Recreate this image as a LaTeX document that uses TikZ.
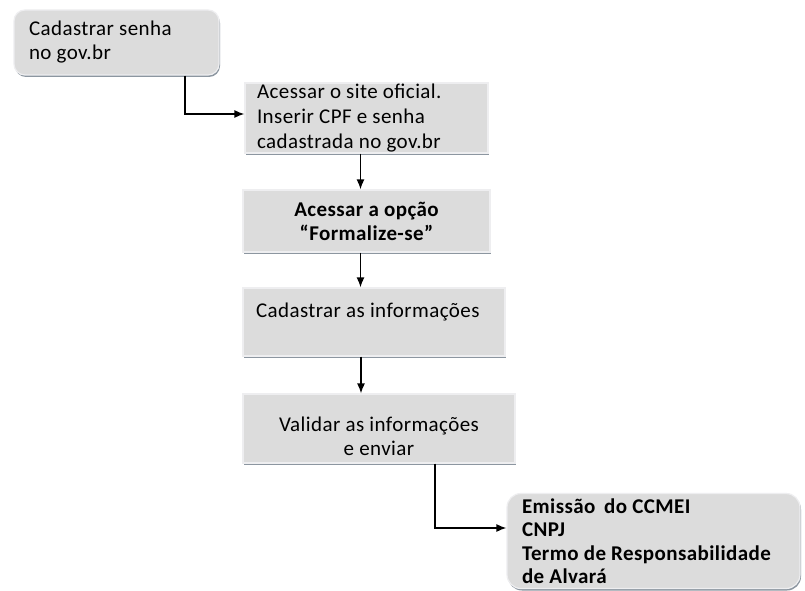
\documentclass[tikz,border=0pt]{standalone}
\usepackage{fontspec}
\setmainfont[LetterSpace=2]{Carlito}
\usetikzlibrary{arrows.meta,shapes,shadows}

\definecolor{boxgray}{RGB}{220,220,220}
\definecolor{edgegray}{RGB}{238,238,240}
\definecolor{shadegray}{RGB}{140,150,160}

\begin{document}
\begin{tikzpicture}[x=1pt,y=-1pt,
    block/.style={
      shape=rectangle,
      fill=boxgray,
      draw=edgegray,
      line width=1.2pt,
      general shadow={fill=shadegray, shadow xshift=1pt, shadow yshift=-2pt},
      font=\fontsize{21}{24}\selectfont,
      inner ysep=0pt
    },
    roundblock/.style={
      block,
      rounded corners=11pt
    },
    arr/.style={-{Latex[length=10pt,width=8pt]},line width=1.4pt,black}
    ]
    \clip (0,0) rectangle (805,591);
    \fill[white] (0,0) rectangle (805,591);
    %\draw (0,0) node [block] {teste};
    \node[roundblock,minimum width=205pt,minimum height=65pt,text width=175pt,inner xsep=15pt,align=flush left] (A) at (116.5,42.5) {Cadastrar senha\\no gov.br};
    \node[block,minimum width=243pt,minimum height=70pt,text width=219pt,inner xsep=12pt,align=flush left,font=\fontsize{21}{25}\selectfont] (B) at (366.5,118) {Acessar o site oficial.\\Inserir CPF e senha\\cadastrada no gov.br};
    \node[block,minimum width=247pt,minimum height=62pt,align=center,font=\fontsize{21}{24}\selectfont\bfseries] (C) at (366.5,221) {Acessar a opção\\“Formalize-se”};
    \node[block,minimum width=262pt,minimum height=68pt,text width=236pt,inner xsep=13pt,align=flush left] (D) at (374,322) {Cadastrar as informações\\\mbox{}};
    \node[block,minimum width=272pt,minimum height=69pt,align=center] (E) at (379,428.5) {\mbox{}\\[6pt]Validar as informações\\e enviar};
    \node[roundblock,rounded corners=14pt,minimum width=293pt,minimum height=95pt,text width=263pt,inner xsep=15pt,align=flush left,font=\fontsize{21}{23.5}\selectfont\bfseries] (F) at (653.5,541) {Emissão\, do CCMEI\\CNPJ\\Termo de Responsabilidade\\de Alvará};
    \draw[arr] ([xshift=68.5pt]A.south) |- ([yshift=4pt]B.west);
    \draw[arr] ([xshift=-6pt]B.south) -- ([xshift=-6pt]B.south |- C.north);
    \draw[arr] ([xshift=-6pt]C.south) -- ([xshift=-6pt]C.south |- D.north);
    \draw[arr] ([xshift=-13pt]D.south) -- ([xshift=-13pt]D.south |- E.north);
    \draw[arr] ([xshift=56pt]E.south) |- ([yshift=13pt]F.west);
  \end{tikzpicture}
\end{document}
